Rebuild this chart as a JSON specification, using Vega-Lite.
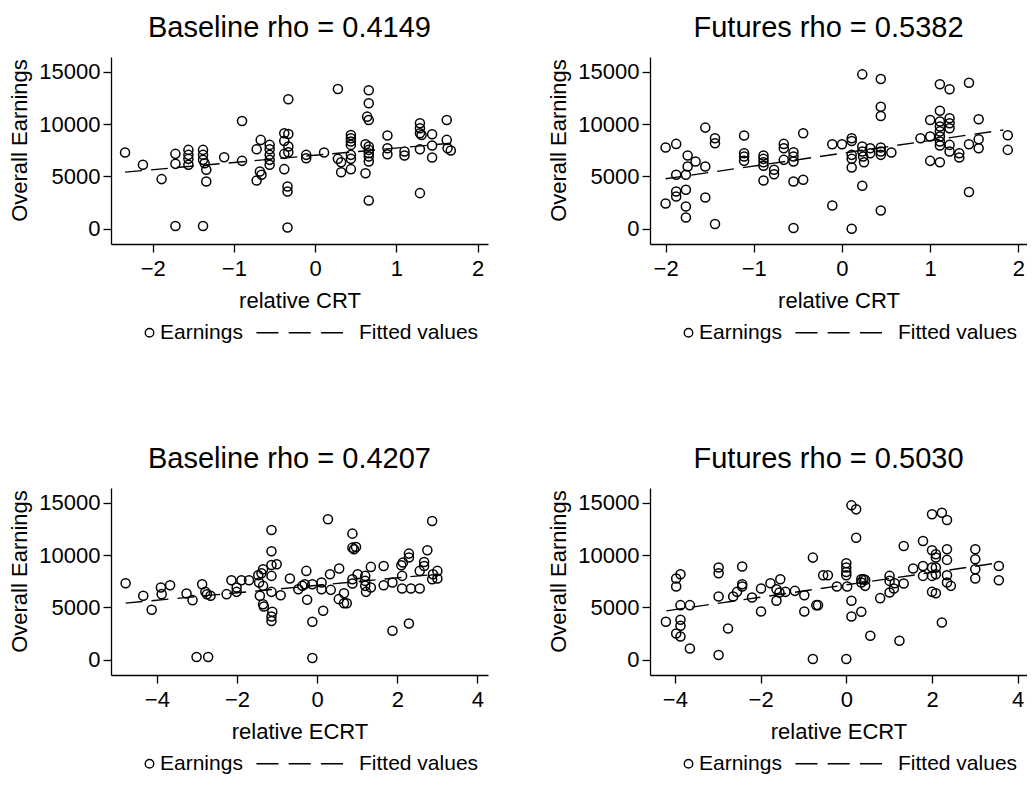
{
"$schema": "https://vega.github.io/schema/vega-lite/v6.json",
"padding": {"left": 8, "top": 14, "right": 0, "bottom": 0},
"background": "white",
"config": {
  "font": "Liberation Sans",
  "view": {"stroke": null},
  "title": {"fontSize": 29, "fontWeight": "normal", "color": "black", "font": "Liberation Sans", "offset": 14, "dx": -10},
  "axis": {"grid": false, "labelFontSize": 22, "titleFontSize": 22, "titleFontWeight": "normal", "labelColor": "black", "titleColor": "black", "domainColor": "black", "tickColor": "black", "domainWidth": 1.3, "tickWidth": 1.3, "tickSize": 8, "labelFont": "Liberation Sans", "titleFont": "Liberation Sans"},
  "axisY": {"labelPadding": 3, "titlePadding": 7, "titleY": 83},
  "axisX": {"labelPadding": 6, "titlePadding": 11},
  "legend": {"labelFontSize": 21, "labelFont": "Liberation Sans", "labelColor": "black", "title": null, "orient": "none", "legendX": 28, "legendY": 265, "direction": "horizontal", "columnPadding": 10, "labelOffset": 0, "symbolSize": 72, "symbolStrokeWidth": 1.4, "symbolStrokeColor": "black"}
},
"datasets": {
  "p1": [
    {"x":-2.34,"y":7277,"s":"Earnings"},{"x":-2.12,"y":6104,"s":"Earnings"},{"x":-1.89,"y":4740,"s":"Earnings"},{"x":-1.72,"y":7153,"s":"Earnings"},{"x":-1.72,"y":6199,"s":"Earnings"},{"x":-1.72,"y":257,"s":"Earnings"},{"x":-1.56,"y":7534,"s":"Earnings"},{"x":-1.56,"y":7057,"s":"Earnings"},{"x":-1.56,"y":6676,"s":"Earnings"},{"x":-1.56,"y":6104,"s":"Earnings"},{"x":-1.38,"y":7534,"s":"Earnings"},{"x":-1.38,"y":7057,"s":"Earnings"},{"x":-1.38,"y":6580,"s":"Earnings"},{"x":-1.36,"y":6263,"s":"Earnings"},{"x":-1.34,"y":5627,"s":"Earnings"},{"x":-1.34,"y":4512,"s":"Earnings"},{"x":-1.38,"y":257,"s":"Earnings"},{"x":-1.12,"y":6835,"s":"Earnings"},{"x":-0.90,"y":10300,"s":"Earnings"},{"x":-0.90,"y":6485,"s":"Earnings"},{"x":-0.72,"y":7600,"s":"Earnings"},{"x":-0.72,"y":4606,"s":"Earnings"},{"x":-0.67,"y":8488,"s":"Earnings"},{"x":-0.68,"y":5465,"s":"Earnings"},{"x":-0.66,"y":5150,"s":"Earnings"},{"x":-0.56,"y":8011,"s":"Earnings"},{"x":-0.56,"y":7600,"s":"Earnings"},{"x":-0.56,"y":7057,"s":"Earnings"},{"x":-0.56,"y":6580,"s":"Earnings"},{"x":-0.56,"y":6104,"s":"Earnings"},{"x":-0.38,"y":9127,"s":"Earnings"},{"x":-0.33,"y":9060,"s":"Earnings"},{"x":-0.38,"y":8393,"s":"Earnings"},{"x":-0.33,"y":7850,"s":"Earnings"},{"x":-0.38,"y":7153,"s":"Earnings"},{"x":-0.33,"y":7300,"s":"Earnings"},{"x":-0.38,"y":5693,"s":"Earnings"},{"x":-0.34,"y":4035,"s":"Earnings"},{"x":-0.34,"y":3559,"s":"Earnings"},{"x":-0.33,"y":12370,"s":"Earnings"},{"x":-0.34,"y":124,"s":"Earnings"},{"x":-0.11,"y":7057,"s":"Earnings"},{"x":-0.11,"y":6740,"s":"Earnings"},{"x":0.11,"y":7277,"s":"Earnings"},{"x":0.28,"y":13352,"s":"Earnings"},{"x":0.28,"y":6676,"s":"Earnings"},{"x":0.32,"y":6358,"s":"Earnings"},{"x":0.32,"y":5405,"s":"Earnings"},{"x":0.44,"y":8965,"s":"Earnings"},{"x":0.44,"y":8650,"s":"Earnings"},{"x":0.44,"y":8330,"s":"Earnings"},{"x":0.44,"y":8011,"s":"Earnings"},{"x":0.44,"y":7057,"s":"Earnings"},{"x":0.44,"y":6676,"s":"Earnings"},{"x":0.44,"y":5693,"s":"Earnings"},{"x":0.62,"y":8075,"s":"Earnings"},{"x":0.62,"y":5310,"s":"Earnings"},{"x":0.66,"y":13225,"s":"Earnings"},{"x":0.66,"y":11985,"s":"Earnings"},{"x":0.64,"y":10710,"s":"Earnings"},{"x":0.66,"y":10395,"s":"Earnings"},{"x":0.66,"y":7850,"s":"Earnings"},{"x":0.66,"y":7534,"s":"Earnings"},{"x":0.66,"y":7216,"s":"Earnings"},{"x":0.66,"y":6900,"s":"Earnings"},{"x":0.66,"y":6420,"s":"Earnings"},{"x":0.66,"y":2700,"s":"Earnings"},{"x":0.89,"y":8900,"s":"Earnings"},{"x":0.89,"y":7693,"s":"Earnings"},{"x":0.89,"y":7120,"s":"Earnings"},{"x":1.10,"y":7374,"s":"Earnings"},{"x":1.10,"y":6990,"s":"Earnings"},{"x":1.29,"y":10080,"s":"Earnings"},{"x":1.29,"y":9600,"s":"Earnings"},{"x":1.29,"y":9127,"s":"Earnings"},{"x":1.31,"y":8965,"s":"Earnings"},{"x":1.29,"y":7600,"s":"Earnings"},{"x":1.29,"y":3400,"s":"Earnings"},{"x":1.44,"y":9030,"s":"Earnings"},{"x":1.44,"y":7946,"s":"Earnings"},{"x":1.44,"y":6800,"s":"Earnings"},{"x":1.62,"y":10395,"s":"Earnings"},{"x":1.62,"y":8488,"s":"Earnings"},{"x":1.63,"y":7693,"s":"Earnings"},{"x":1.67,"y":7470,"s":"Earnings"},
    {"x":-2.34,"y":5405,"s":"Fitted values"},{"x":1.67,"y":8172,"s":"Fitted values"}
  ],
  "p2": [
    {"x":-2.00,"y":7754,"s":"Earnings"},{"x":-1.88,"y":8106,"s":"Earnings"},{"x":-2.00,"y":2413,"s":"Earnings"},{"x":-1.88,"y":5150,"s":"Earnings"},{"x":-1.88,"y":3559,"s":"Earnings"},{"x":-1.88,"y":3080,"s":"Earnings"},{"x":-1.77,"y":3719,"s":"Earnings"},{"x":-1.77,"y":5150,"s":"Earnings"},{"x":-1.75,"y":6990,"s":"Earnings"},{"x":-1.75,"y":5940,"s":"Earnings"},{"x":-1.77,"y":2127,"s":"Earnings"},{"x":-1.77,"y":1078,"s":"Earnings"},{"x":-1.66,"y":6420,"s":"Earnings"},{"x":-1.55,"y":9661,"s":"Earnings"},{"x":-1.55,"y":5940,"s":"Earnings"},{"x":-1.55,"y":2985,"s":"Earnings"},{"x":-1.44,"y":8650,"s":"Earnings"},{"x":-1.44,"y":8170,"s":"Earnings"},{"x":-1.44,"y":448,"s":"Earnings"},{"x":-1.11,"y":8900,"s":"Earnings"},{"x":-1.11,"y":7220,"s":"Earnings"},{"x":-1.11,"y":6900,"s":"Earnings"},{"x":-1.11,"y":6485,"s":"Earnings"},{"x":-0.89,"y":6990,"s":"Earnings"},{"x":-0.89,"y":6676,"s":"Earnings"},{"x":-0.89,"y":6360,"s":"Earnings"},{"x":-0.89,"y":6010,"s":"Earnings"},{"x":-0.89,"y":4606,"s":"Earnings"},{"x":-0.77,"y":5627,"s":"Earnings"},{"x":-0.77,"y":5210,"s":"Earnings"},{"x":-0.66,"y":8106,"s":"Earnings"},{"x":-0.66,"y":7693,"s":"Earnings"},{"x":-0.66,"y":6580,"s":"Earnings"},{"x":-0.55,"y":7313,"s":"Earnings"},{"x":-0.55,"y":6900,"s":"Earnings"},{"x":-0.55,"y":6420,"s":"Earnings"},{"x":-0.55,"y":4512,"s":"Earnings"},{"x":-0.55,"y":66,"s":"Earnings"},{"x":-0.44,"y":9127,"s":"Earnings"},{"x":-0.44,"y":4673,"s":"Earnings"},{"x":-0.11,"y":8075,"s":"Earnings"},{"x":0.0,"y":8075,"s":"Earnings"},{"x":0.11,"y":8650,"s":"Earnings"},{"x":0.11,"y":8390,"s":"Earnings"},{"x":0.11,"y":7057,"s":"Earnings"},{"x":0.11,"y":6676,"s":"Earnings"},{"x":0.11,"y":5850,"s":"Earnings"},{"x":0.23,"y":14750,"s":"Earnings"},{"x":0.23,"y":7850,"s":"Earnings"},{"x":0.23,"y":7374,"s":"Earnings"},{"x":0.24,"y":6900,"s":"Earnings"},{"x":0.25,"y":6358,"s":"Earnings"},{"x":0.23,"y":4100,"s":"Earnings"},{"x":0.32,"y":7693,"s":"Earnings"},{"x":0.32,"y":7216,"s":"Earnings"},{"x":0.44,"y":14305,"s":"Earnings"},{"x":0.44,"y":11665,"s":"Earnings"},{"x":0.44,"y":10777,"s":"Earnings"},{"x":0.44,"y":7754,"s":"Earnings"},{"x":0.44,"y":7374,"s":"Earnings"},{"x":0.44,"y":7057,"s":"Earnings"},{"x":0.44,"y":1745,"s":"Earnings"},{"x":0.56,"y":7277,"s":"Earnings"},{"x":-0.11,"y":2222,"s":"Earnings"},{"x":0.11,"y":0,"s":"Earnings"},{"x":0.89,"y":8650,"s":"Earnings"},{"x":1.00,"y":10395,"s":"Earnings"},{"x":1.00,"y":8805,"s":"Earnings"},{"x":1.00,"y":6485,"s":"Earnings"},{"x":1.11,"y":13800,"s":"Earnings"},{"x":1.22,"y":13320,"s":"Earnings"},{"x":1.11,"y":11282,"s":"Earnings"},{"x":1.11,"y":10240,"s":"Earnings"},{"x":1.11,"y":9770,"s":"Earnings"},{"x":1.11,"y":9300,"s":"Earnings"},{"x":1.11,"y":8805,"s":"Earnings"},{"x":1.11,"y":8330,"s":"Earnings"},{"x":1.11,"y":7946,"s":"Earnings"},{"x":1.11,"y":6358,"s":"Earnings"},{"x":1.22,"y":10560,"s":"Earnings"},{"x":1.22,"y":10080,"s":"Earnings"},{"x":1.22,"y":9600,"s":"Earnings"},{"x":1.22,"y":8011,"s":"Earnings"},{"x":1.22,"y":7374,"s":"Earnings"},{"x":1.33,"y":7220,"s":"Earnings"},{"x":1.33,"y":6800,"s":"Earnings"},{"x":1.44,"y":13950,"s":"Earnings"},{"x":1.44,"y":8075,"s":"Earnings"},{"x":1.44,"y":3500,"s":"Earnings"},{"x":1.55,"y":10460,"s":"Earnings"},{"x":1.55,"y":8550,"s":"Earnings"},{"x":1.55,"y":7693,"s":"Earnings"},{"x":1.88,"y":8930,"s":"Earnings"},{"x":1.88,"y":7534,"s":"Earnings"},
    {"x":-2.0,"y":4770,"s":"Fitted values"},{"x":1.83,"y":9440,"s":"Fitted values"}
  ],
  "p3": [
    {"x":-4.78,"y":7315,"s":"Earnings"},{"x":-4.34,"y":6104,"s":"Earnings"},{"x":-4.13,"y":4768,"s":"Earnings"},{"x":-3.90,"y":6895,"s":"Earnings"},{"x":-3.88,"y":6266,"s":"Earnings"},{"x":-3.67,"y":7124,"s":"Earnings"},{"x":-3.26,"y":6323,"s":"Earnings"},{"x":-3.11,"y":5693,"s":"Earnings"},{"x":-3.01,"y":257,"s":"Earnings"},{"x":-2.72,"y":257,"s":"Earnings"},{"x":-2.87,"y":7220,"s":"Earnings"},{"x":-2.79,"y":6485,"s":"Earnings"},{"x":-2.75,"y":6250,"s":"Earnings"},{"x":-2.66,"y":6104,"s":"Earnings"},{"x":-2.26,"y":6266,"s":"Earnings"},{"x":-2.14,"y":7600,"s":"Earnings"},{"x":-2.01,"y":6895,"s":"Earnings"},{"x":-2.01,"y":6485,"s":"Earnings"},{"x":-1.89,"y":7600,"s":"Earnings"},{"x":-1.70,"y":7600,"s":"Earnings"},{"x":-1.47,"y":8075,"s":"Earnings"},{"x":-1.45,"y":7374,"s":"Earnings"},{"x":-1.39,"y":8270,"s":"Earnings"},{"x":-1.35,"y":8650,"s":"Earnings"},{"x":-1.14,"y":12398,"s":"Earnings"},{"x":-1.14,"y":10365,"s":"Earnings"},{"x":-1.14,"y":9060,"s":"Earnings"},{"x":-1.01,"y":9127,"s":"Earnings"},{"x":-1.14,"y":8011,"s":"Earnings"},{"x":-1.35,"y":7057,"s":"Earnings"},{"x":-1.43,"y":6104,"s":"Earnings"},{"x":-1.14,"y":6485,"s":"Earnings"},{"x":-0.91,"y":6170,"s":"Earnings"},{"x":-1.35,"y":5310,"s":"Earnings"},{"x":-1.33,"y":5090,"s":"Earnings"},{"x":-1.12,"y":4578,"s":"Earnings"},{"x":-1.14,"y":4131,"s":"Earnings"},{"x":-1.14,"y":3700,"s":"Earnings"},{"x":-0.68,"y":7753,"s":"Earnings"},{"x":-0.47,"y":6740,"s":"Earnings"},{"x":-0.27,"y":8488,"s":"Earnings"},{"x":-0.37,"y":7057,"s":"Earnings"},{"x":-0.31,"y":7220,"s":"Earnings"},{"x":-0.25,"y":5722,"s":"Earnings"},{"x":-0.12,"y":7220,"s":"Earnings"},{"x":-0.12,"y":3624,"s":"Earnings"},{"x":-0.12,"y":162,"s":"Earnings"},{"x":0.11,"y":7374,"s":"Earnings"},{"x":0.11,"y":6740,"s":"Earnings"},{"x":0.15,"y":4673,"s":"Earnings"},{"x":0.27,"y":13418,"s":"Earnings"},{"x":0.32,"y":8170,"s":"Earnings"},{"x":0.34,"y":6676,"s":"Earnings"},{"x":0.55,"y":8710,"s":"Earnings"},{"x":0.54,"y":5790,"s":"Earnings"},{"x":0.67,"y":6360,"s":"Earnings"},{"x":0.67,"y":5405,"s":"Earnings"},{"x":0.74,"y":5405,"s":"Earnings"},{"x":0.88,"y":12050,"s":"Earnings"},{"x":0.88,"y":10710,"s":"Earnings"},{"x":0.92,"y":10550,"s":"Earnings"},{"x":0.97,"y":10777,"s":"Earnings"},{"x":0.88,"y":7693,"s":"Earnings"},{"x":0.88,"y":7277,"s":"Earnings"},{"x":1.01,"y":8170,"s":"Earnings"},{"x":1.20,"y":8011,"s":"Earnings"},{"x":1.20,"y":7534,"s":"Earnings"},{"x":1.20,"y":7057,"s":"Earnings"},{"x":1.22,"y":6485,"s":"Earnings"},{"x":1.34,"y":8870,"s":"Earnings"},{"x":1.34,"y":6900,"s":"Earnings"},{"x":1.66,"y":8965,"s":"Earnings"},{"x":1.66,"y":7124,"s":"Earnings"},{"x":1.88,"y":7374,"s":"Earnings"},{"x":1.88,"y":2766,"s":"Earnings"},{"x":2.10,"y":9030,"s":"Earnings"},{"x":2.14,"y":9290,"s":"Earnings"},{"x":2.12,"y":8011,"s":"Earnings"},{"x":2.12,"y":6800,"s":"Earnings"},{"x":2.29,"y":10140,"s":"Earnings"},{"x":2.29,"y":9770,"s":"Earnings"},{"x":2.34,"y":6800,"s":"Earnings"},{"x":2.29,"y":3464,"s":"Earnings"},{"x":2.56,"y":6800,"s":"Earnings"},{"x":2.56,"y":8488,"s":"Earnings"},{"x":2.67,"y":9346,"s":"Earnings"},{"x":2.67,"y":8965,"s":"Earnings"},{"x":2.75,"y":10460,"s":"Earnings"},{"x":2.87,"y":13257,"s":"Earnings"},{"x":2.87,"y":7693,"s":"Earnings"},{"x":2.89,"y":8170,"s":"Earnings"},{"x":3.0,"y":8488,"s":"Earnings"},{"x":3.0,"y":7754,"s":"Earnings"},
    {"x":-4.78,"y":5407,"s":"Fitted values"},{"x":2.98,"y":8170,"s":"Fitted values"}
  ],
  "p4": [
    {"x":-4.21,"y":3624,"s":"Earnings"},{"x":-3.97,"y":7753,"s":"Earnings"},{"x":-3.87,"y":8170,"s":"Earnings"},{"x":-3.97,"y":6990,"s":"Earnings"},{"x":-3.87,"y":5215,"s":"Earnings"},{"x":-3.87,"y":3815,"s":"Earnings"},{"x":-3.87,"y":3240,"s":"Earnings"},{"x":-3.97,"y":2510,"s":"Earnings"},{"x":-3.87,"y":2222,"s":"Earnings"},{"x":-3.65,"y":5215,"s":"Earnings"},{"x":-3.65,"y":1078,"s":"Earnings"},{"x":-2.98,"y":8805,"s":"Earnings"},{"x":-2.98,"y":8270,"s":"Earnings"},{"x":-2.98,"y":6040,"s":"Earnings"},{"x":-2.98,"y":448,"s":"Earnings"},{"x":-2.76,"y":2985,"s":"Earnings"},{"x":-2.64,"y":6040,"s":"Earnings"},{"x":-2.55,"y":6485,"s":"Earnings"},{"x":-2.43,"y":8900,"s":"Earnings"},{"x":-2.43,"y":7220,"s":"Earnings"},{"x":-2.43,"y":7000,"s":"Earnings"},{"x":-2.20,"y":5940,"s":"Earnings"},{"x":-1.99,"y":6800,"s":"Earnings"},{"x":-1.99,"y":4608,"s":"Earnings"},{"x":-1.77,"y":7315,"s":"Earnings"},{"x":-1.63,"y":5627,"s":"Earnings"},{"x":-1.63,"y":6740,"s":"Earnings"},{"x":-1.54,"y":7693,"s":"Earnings"},{"x":-1.56,"y":6420,"s":"Earnings"},{"x":-1.42,"y":6485,"s":"Earnings"},{"x":-1.20,"y":6580,"s":"Earnings"},{"x":-0.98,"y":6170,"s":"Earnings"},{"x":-0.98,"y":4608,"s":"Earnings"},{"x":-0.78,"y":9757,"s":"Earnings"},{"x":-0.70,"y":5215,"s":"Earnings"},{"x":-0.78,"y":66,"s":"Earnings"},{"x":-0.66,"y":5215,"s":"Earnings"},{"x":-0.54,"y":8075,"s":"Earnings"},{"x":-0.43,"y":8075,"s":"Earnings"},{"x":-0.22,"y":6990,"s":"Earnings"},{"x":0.0,"y":9220,"s":"Earnings"},{"x":0.0,"y":8805,"s":"Earnings"},{"x":0.0,"y":8390,"s":"Earnings"},{"x":0.0,"y":8075,"s":"Earnings"},{"x":0.02,"y":6990,"s":"Earnings"},{"x":0.12,"y":14750,"s":"Earnings"},{"x":0.23,"y":14370,"s":"Earnings"},{"x":0.23,"y":11665,"s":"Earnings"},{"x":0.12,"y":5627,"s":"Earnings"},{"x":0.12,"y":4131,"s":"Earnings"},{"x":0.35,"y":4578,"s":"Earnings"},{"x":0.56,"y":2289,"s":"Earnings"},{"x":0.0,"y":66,"s":"Earnings"},{"x":0.35,"y":7693,"s":"Earnings"},{"x":0.40,"y":7693,"s":"Earnings"},{"x":0.44,"y":7630,"s":"Earnings"},{"x":0.44,"y":7057,"s":"Earnings"},{"x":0.35,"y":7374,"s":"Earnings"},{"x":0.79,"y":5884,"s":"Earnings"},{"x":1.01,"y":8011,"s":"Earnings"},{"x":1.01,"y":7534,"s":"Earnings"},{"x":1.01,"y":6420,"s":"Earnings"},{"x":1.11,"y":6800,"s":"Earnings"},{"x":1.13,"y":7300,"s":"Earnings"},{"x":1.24,"y":1812,"s":"Earnings"},{"x":1.34,"y":10872,"s":"Earnings"},{"x":1.34,"y":7277,"s":"Earnings"},{"x":1.56,"y":8710,"s":"Earnings"},{"x":1.79,"y":11350,"s":"Earnings"},{"x":1.79,"y":8965,"s":"Earnings"},{"x":1.79,"y":8011,"s":"Earnings"},{"x":2.0,"y":13895,"s":"Earnings"},{"x":2.23,"y":14050,"s":"Earnings"},{"x":2.35,"y":13350,"s":"Earnings"},{"x":2.0,"y":10460,"s":"Earnings"},{"x":2.09,"y":10080,"s":"Earnings"},{"x":2.09,"y":9760,"s":"Earnings"},{"x":2.0,"y":8805,"s":"Earnings"},{"x":2.0,"y":8011,"s":"Earnings"},{"x":2.0,"y":6485,"s":"Earnings"},{"x":2.09,"y":6358,"s":"Earnings"},{"x":2.09,"y":8805,"s":"Earnings"},{"x":2.09,"y":8170,"s":"Earnings"},{"x":2.35,"y":10560,"s":"Earnings"},{"x":2.35,"y":9540,"s":"Earnings"},{"x":2.35,"y":8075,"s":"Earnings"},{"x":2.35,"y":7374,"s":"Earnings"},{"x":2.44,"y":7057,"s":"Earnings"},{"x":2.23,"y":3560,"s":"Earnings"},{"x":3.01,"y":10560,"s":"Earnings"},{"x":3.01,"y":9600,"s":"Earnings"},{"x":3.01,"y":8650,"s":"Earnings"},{"x":3.01,"y":7754,"s":"Earnings"},{"x":3.56,"y":8965,"s":"Earnings"},{"x":3.56,"y":7600,"s":"Earnings"},
    {"x":-4.2,"y":4673,"s":"Fitted values"},{"x":3.59,"y":9280,"s":"Fitted values"}
  ]
},
"vconcat": [
  {"hconcat": [
    {"width": 377, "height": 187, "title": "Baseline rho = 0.4149", "data": {"name": "p1"},
     "layer": [
      {"transform": [{"filter": "datum.s === 'Fitted values'"}], "mark": {"type": "line", "color": "black", "strokeDash": [17, 9], "strokeWidth": 1.4},
       "encoding": {"x": {"field": "x", "type": "quantitative", "scale": {"domain": [-2.513, 2.128], "nice": false, "zero": false}, "axis": {"values": [-2,-1,0,1,2], "format": "d", "title": "relative CRT"}},
                    "y": {"field": "y", "type": "quantitative", "scale": {"domain": [-1460, 16410], "nice": false, "zero": false}, "axis": {"values": [0,5000,10000,15000], "format": "d", "title": "Overall Earnings"}}}},
      {"transform": [{"filter": "datum.s === 'Earnings'"}], "mark": {"type": "point", "filled": false, "color": "black", "strokeWidth": 1.5, "opacity": 1, "size": 82},
       "encoding": {"x": {"field": "x", "type": "quantitative"}, "y": {"field": "y", "type": "quantitative"},
                    "shape": {"field": "s", "type": "nominal", "scale": {"domain": ["Earnings", "Fitted values"], "range": ["circle", "M-21.7,0H-16.5M-14.1,0H-8.9M-6.5,0H-1.3"]}}}}
     ]},
    {"width": 377, "height": 187, "title": "Futures rho = 0.5382", "data": {"name": "p2"},
     "layer": [
      {"transform": [{"filter": "datum.s === 'Fitted values'"}], "mark": {"type": "line", "color": "black", "strokeDash": [17, 9], "strokeWidth": 1.4},
       "encoding": {"x": {"field": "x", "type": "quantitative", "scale": {"domain": [-2.177, 2.098], "nice": false, "zero": false}, "axis": {"values": [-2,-1,0,1,2], "format": "d", "title": "relative CRT"}},
                    "y": {"field": "y", "type": "quantitative", "scale": {"domain": [-1460, 16410], "nice": false, "zero": false}, "axis": {"values": [0,5000,10000,15000], "format": "d", "title": "Overall Earnings"}}}},
      {"transform": [{"filter": "datum.s === 'Earnings'"}], "mark": {"type": "point", "filled": false, "color": "black", "strokeWidth": 1.5, "opacity": 1, "size": 82},
       "encoding": {"x": {"field": "x", "type": "quantitative"}, "y": {"field": "y", "type": "quantitative"},
                    "shape": {"field": "s", "type": "nominal", "scale": {"domain": ["Earnings", "Fitted values"], "range": ["circle", "M-21.7,0H-16.5M-14.1,0H-8.9M-6.5,0H-1.3"]}}}}
     ]}
  ], "spacing": 59, "resolve": {"scale": {"x": "independent", "y": "independent", "shape": "independent"}, "legend": {"shape": "independent"}}},
  {"hconcat": [
    {"width": 377, "height": 187, "title": "Baseline rho = 0.4207", "data": {"name": "p3"},
     "layer": [
      {"transform": [{"filter": "datum.s === 'Fitted values'"}], "mark": {"type": "line", "color": "black", "strokeDash": [17, 9], "strokeWidth": 1.4},
       "encoding": {"x": {"field": "x", "type": "quantitative", "scale": {"domain": [-5.145, 4.264], "nice": false, "zero": false}, "axis": {"values": [-4,-2,0,2,4], "format": "d", "title": "relative ECRT"}},
                    "y": {"field": "y", "type": "quantitative", "scale": {"domain": [-1460, 16410], "nice": false, "zero": false}, "axis": {"values": [0,5000,10000,15000], "format": "d", "title": "Overall Earnings"}}}},
      {"transform": [{"filter": "datum.s === 'Earnings'"}], "mark": {"type": "point", "filled": false, "color": "black", "strokeWidth": 1.5, "opacity": 1, "size": 82},
       "encoding": {"x": {"field": "x", "type": "quantitative"}, "y": {"field": "y", "type": "quantitative"},
                    "shape": {"field": "s", "type": "nominal", "scale": {"domain": ["Earnings", "Fitted values"], "range": ["circle", "M-21.7,0H-16.5M-14.1,0H-8.9M-6.5,0H-1.3"]}}}}
     ]},
    {"width": 377, "height": 187, "title": "Futures rho = 0.5030", "data": {"name": "p4"},
     "layer": [
      {"transform": [{"filter": "datum.s === 'Fitted values'"}], "mark": {"type": "line", "color": "black", "strokeDash": [17, 9], "strokeWidth": 1.4},
       "encoding": {"x": {"field": "x", "type": "quantitative", "scale": {"domain": [-4.581, 4.217], "nice": false, "zero": false}, "axis": {"values": [-4,-2,0,2,4], "format": "d", "title": "relative ECRT"}},
                    "y": {"field": "y", "type": "quantitative", "scale": {"domain": [-1460, 16410], "nice": false, "zero": false}, "axis": {"values": [0,5000,10000,15000], "format": "d", "title": "Overall Earnings"}}}},
      {"transform": [{"filter": "datum.s === 'Earnings'"}], "mark": {"type": "point", "filled": false, "color": "black", "strokeWidth": 1.5, "opacity": 1, "size": 82},
       "encoding": {"x": {"field": "x", "type": "quantitative"}, "y": {"field": "y", "type": "quantitative"},
                    "shape": {"field": "s", "type": "nominal", "scale": {"domain": ["Earnings", "Fitted values"], "range": ["circle", "M-21.7,0H-16.5M-14.1,0H-8.9M-6.5,0H-1.3"]}}}}
     ]}
  ], "spacing": 59, "resolve": {"scale": {"x": "independent", "y": "independent", "shape": "independent"}, "legend": {"shape": "independent"}}}
],
"spacing": 102,
"resolve": {"scale": {"x": "independent", "y": "independent", "shape": "independent"}, "legend": {"shape": "independent"}}
}
